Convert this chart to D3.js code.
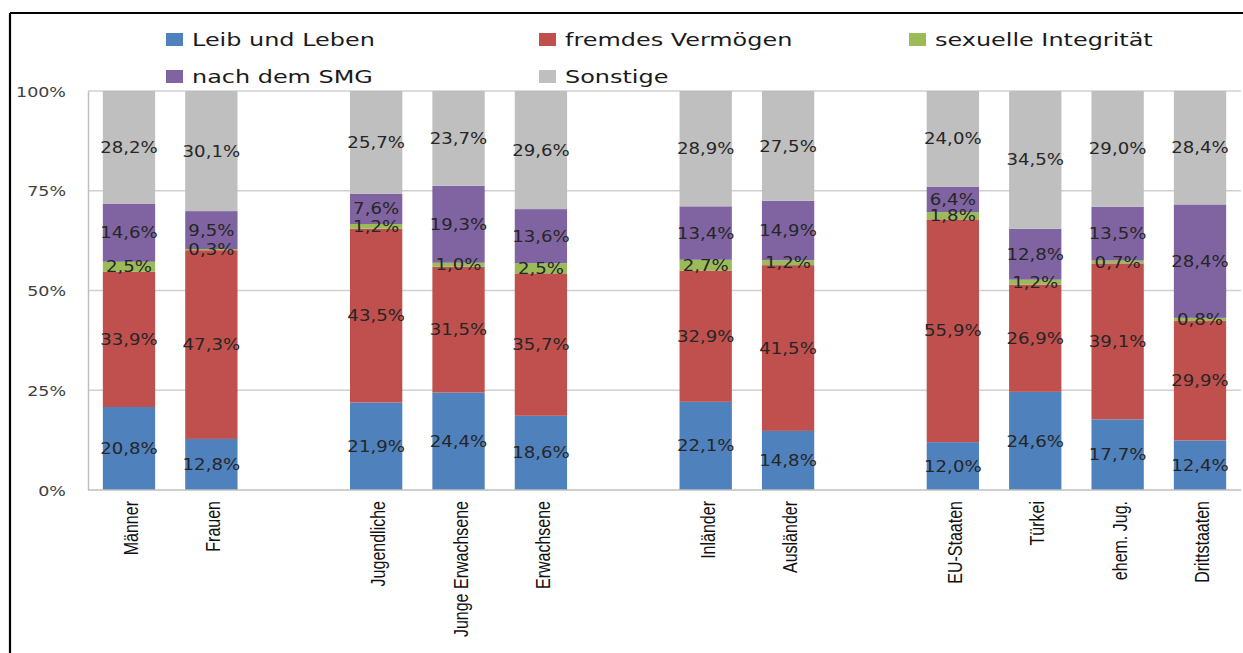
<html lang="de">
<head>
<meta charset="UTF-8">
<script src="https://d3js.org/d3.v7.min.js"></script>
<title>Delikte nach Gruppen</title>
<style>
  body { margin: 0; background: #fff; }
  .lbl { font-family: "DejaVu Sans", Verdana, sans-serif; font-size: 15.5px; fill: #262626; }
  .tick-lbl { font-family: "DejaVu Sans", Verdana, sans-serif; font-size: 14px; fill: #404040; }
  .leg { font-family: "DejaVu Sans", Verdana, sans-serif; font-size: 18px; fill: #1a1a1a; }
  .cat { font-family: "Liberation Sans", Arial, sans-serif; font-size: 20px; fill: #111; }
</style>
<script>
// groups of bars, a gap is left between groups
var groups = [
  ["Männer", "Frauen"],
  ["Jugendliche", "Junge Erwachsene", "Erwachsene"],
  ["Inländer", "Ausländer"],
  ["EU-Staaten", "Türkei", "ehem. Jug.", "Drittstaaten"]
];
var categories = ["Männer", "Frauen", "Jugendliche", "Junge Erwachsene", "Erwachsene",
  "Inländer", "Ausländer", "EU-Staaten", "Türkei", "ehem. Jug.", "Drittstaaten"];

var seriesNames = ["Leib und Leben", "fremdes Vermögen", "sexuelle Integrität", "nach dem SMG", "Sonstige"];
var seriesColors = ["#4f81bd", "#c0504d", "#9bbb59", "#8064a2", "#bfbfbf"];

var leibUndLeben      = [20.8, 12.8, 21.9, 24.4, 18.6, 22.1, 14.8, 12.0, 24.6, 17.7, 12.4];
var fremdesVermoegen  = [33.9, 47.3, 43.5, 31.5, 35.7, 32.9, 41.5, 55.9, 26.9, 39.1, 29.9];
var sexIntegritaet    = [2.5, 0.3, 1.2, 1.0, 2.5, 2.7, 1.2, 1.8, 1.2, 0.7, 0.8];
var nachDemSMG        = [14.6, 9.5, 7.6, 19.3, 13.6, 13.4, 14.9, 6.4, 12.8, 13.5, 28.4];
var sonstige          = [28.2, 30.1, 25.7, 23.7, 29.6, 28.9, 27.5, 24.0, 34.5, 29.0, 28.4];

var yTicks = [0, 0.25, 0.5, 0.75, 1];

function main() {
  var svg = d3.select("svg");
  var W = 1243, H = 653;
  var left = 88, right = 1241, top = 91, bottom = 490;

  // frame lines
  svg.append("line").attr("x1", 10).attr("y1", 13).attr("x2", W).attr("y2", 13)
    .attr("stroke", "#000").attr("stroke-width", 2.2);
  svg.append("line").attr("x1", 10).attr("y1", 13).attr("x2", 10).attr("y2", H)
    .attr("stroke", "#000").attr("stroke-width", 2.2);

  // band domain with spacers between groups
  var domain = [];
  groups.forEach(function (g, i) {
    if (i > 0) domain.push("_gap" + i);
    g.forEach(function (c) { domain.push(c); });
  });

  var x = d3.scaleBand().domain(domain).range([left, right]).paddingInner(0.365).paddingOuter(0.18);
  var y = d3.scaleLinear().domain([0, 1]).range([bottom, top]);

  var series = [leibUndLeben, fremdesVermoegen, sexIntegritaet, nachDemSMG, sonstige];
  var data = categories.map(function (c, i) {
    var row = { cat: c };
    seriesNames.forEach(function (s, k) { row[s] = series[k][i]; });
    return row;
  });

  var stack = d3.stack().keys(seriesNames).offset(d3.stackOffsetExpand);
  var stacked = stack(data);

  // gridlines
  svg.append("g").selectAll("line").data(yTicks.filter(function (t) { return t > 0; }))
    .enter().append("line")
    .attr("x1", left).attr("x2", right)
    .attr("y1", function (d) { return y(d); }).attr("y2", function (d) { return y(d); })
    .attr("stroke", "#d0d0d0").attr("stroke-width", 1.5);

  // y axis
  var ya = svg.append("g").attr("transform", "translate(" + left + ",0)")
    .call(d3.axisLeft(y).tickValues(yTicks).tickSize(0).tickPadding(0).tickFormat(d3.format(".0%")));
  ya.select(".domain").attr("stroke", "#bfbfbf").attr("stroke-width", 1.5);
  ya.selectAll(".tick text").remove();
  ya.selectAll(".tick").append("text")
    .attr("class", "tick-lbl")
    .attr("text-anchor", "end")
    .attr("dy", "0.36em")
    .attr("transform", "translate(-22,0) scale(1.25,1)")
    .text(function (d) { return d3.format(".0%")(d); });

  // bars
  var layer = svg.append("g").selectAll("g").data(stacked).enter().append("g")
    .attr("fill", function (d, i) { return seriesColors[i]; });
  layer.selectAll("rect").data(function (d) { return d; }).enter().append("rect")
    .attr("x", function (d) { return x(d.data.cat); })
    .attr("width", x.bandwidth())
    .attr("y", function (d) { return y(d[1]); })
    .attr("height", function (d) { return y(d[0]) - y(d[1]); });

  // x axis baseline
  svg.append("line").attr("x1", left).attr("x2", right).attr("y1", bottom).attr("y2", bottom)
    .attr("stroke", "#bfbfbf").attr("stroke-width", 1.5);

  // value labels
  stacked.forEach(function (s, k) {
    svg.append("g").selectAll("text").data(s).enter().append("text")
      .attr("class", "lbl")
      .attr("text-anchor", "middle")
      .attr("dy", "0.36em")
      .attr("transform", function (d) {
        var cx = x(d.data.cat) + x.bandwidth() / 2;
        var cy = y((d[0] + d[1]) / 2);
        return "translate(" + cx + "," + cy + ") scale(1.17,1)";
      })
      .text(function (d) { return d3.format(".1f")(d.data[seriesNames[k]]).replace(".", ",") + "%"; });
  });

  // category labels (rotated, narrowed)
  svg.append("g").selectAll("text").data(categories).enter().append("text")
    .attr("class", "cat")
    .attr("text-anchor", "end")
    .attr("transform", function (d) {
      return "translate(" + (x(d) + x.bandwidth() / 2 + 9) + "," + (bottom + 11) + ") rotate(-90) scale(0.8,1)";
    })
    .text(function (d) { return d; });

  // legend
  var legX = [166, 539, 909];
  var legend = svg.append("g").selectAll("g").data(seriesNames).enter().append("g")
    .attr("transform", function (d, i) {
      return "translate(" + legX[i % 3] + "," + (i < 3 ? 33 : 70) + ")";
    });
  legend.append("rect").attr("width", 17).attr("height", 13)
    .attr("fill", function (d, i) { return seriesColors[i]; });
  legend.append("text").attr("class", "leg")
    .attr("transform", "translate(26,13) scale(1.33,1)")
    .text(function (d) { return d; });
}
</script>
</head>
<body onload="main();">
<svg width="1243" height="653"></svg>
</body>
</html>
